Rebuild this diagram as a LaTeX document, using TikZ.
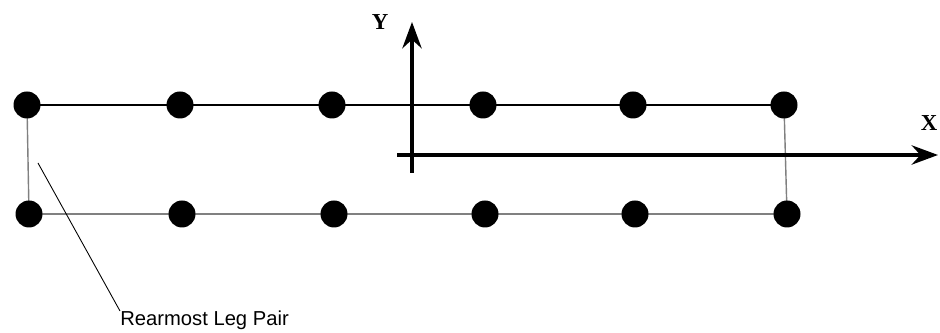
\documentclass[tikz,border=0pt]{standalone}
\usepackage{fontspec}
\setmainfont{Liberation Serif}
\setsansfont{Liberation Sans}
\usetikzlibrary{arrows.meta,backgrounds}
\definecolor{LegGray}{HTML}{808080}
\tikzset{
  leg/.style={circle,fill=black,inner sep=0pt,minimum size=0.54cm},
  body/.style={line width=0.8pt},
  axis/.style={line width=2pt,-{Stealth[length=15pt,width=11pt,inset=5pt]}},
  axislabel/.style={font=\fontsize{13}{15}\selectfont\bfseries},
}
\begin{document}
\begin{tikzpicture}[x=0.02cm,y=-0.02cm]
\path[use as bounding box] (0,0) rectangle (940,333);
% legs, front row and rear row
\node[leg] (t1) at (27,105) {};
\node[leg] (t2) at (180,105) {};
\node[leg] (t3) at (332,105) {};
\node[leg] (t4) at (483,105) {};
\node[leg] (t5) at (633,105) {};
\node[leg] (t6) at (784,105) {};
\node[leg] (b1) at (29,214) {};
\node[leg] (b2) at (182,214) {};
\node[leg] (b3) at (334,214) {};
\node[leg] (b4) at (485,214) {};
\node[leg] (b5) at (635,214) {};
\node[leg] (b6) at (787,214) {};
\begin{scope}[on background layer]
\draw[body] (t1.center) -- (t6.center);
\draw[body,LegGray] (b1.center) -- (b6.center);
\draw[body,LegGray] (t1.center) -- (b1.center);
\draw[body,LegGray] (t6.center) -- (b6.center);
\end{scope}
% axes
\coordinate (ybot) at (412,173);
\coordinate (ytop) at (412,22);
\coordinate (xleft) at (397,155);
\coordinate (xright) at (938,155);
\draw[axis] (ybot) -- (ytop);
\draw[axis] (xleft) -- (xright);
\node[axislabel] (ylbl) at (380,22) {Y};
\node[axislabel] (xlbl) at (929,123) {X};
% leader to label
\node[anchor=north west,inner sep=0pt,font=\sffamily\fontsize{11.5}{13}\selectfont] (lbl) at (120,311) {Rearmost Leg Pair};
\coordinate (tip) at (38,163);
\draw[line width=0.5pt] (tip) -- (lbl.north west);
\end{tikzpicture}
\end{document}
